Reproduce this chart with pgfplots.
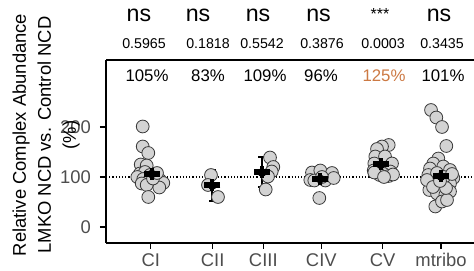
\documentclass[border=0pt]{standalone}
\usepackage{pgfplots}
\pgfplotsset{compat=1.18}
\usepackage{fontspec}
\setmainfont{Liberation Sans}
\definecolor{tickgray}{HTML}{4D4D4D}
\definecolor{ptfill}{HTML}{D3D3D3}
\definecolor{ptedge}{HTML}{3A3A3A}
\definecolor{orangetxt}{RGB}{204,121,67}
\newcommand{\nsfont}{\fontsize{11.6}{12}\selectfont}
\newcommand{\pfont}{\fontsize{7.1}{8}\selectfont}
\newcommand{\pcfont}{\fontsize{8.4}{9}\selectfont}
\begin{document}
\begin{tikzpicture}
\begin{axis}[
  scale only axis, width=184pt, height=91.5pt,
  xmin=106, xmax=474, ymin=-32, ymax=334,
  axis x line*=box, axis y line*=left,
  xtick={150.7,212.7,263.3,321.3,382.7,441},
  xticklabels={CI,CII,CIII,CIV,CV,mtribo},
  ytick={0,100,200},
  xtick pos=left, ytick pos=left,
  tick align=outside, major tick length=3pt,
  axis line style={line width=0.9pt},
  tick style={line width=0.6pt, color=black},
  /pgf/number format/assume math mode=true,
  ticklabel style={font=\fontsize{9.2}{10}\selectfont, text=tickgray},
  xticklabel style={yshift=1.2pt},
  yticklabel style={xshift=-1pt},
  clip=false,
]
\addplot[black, densely dotted, line width=0.6pt] coordinates {(106,100) (474,100)};
\addplot[only marks, mark=*, mark size=3.2pt, mark options={fill=ptfill, draw=ptedge, line width=0.4pt}] coordinates {
(142.7,201) (142.7,161) (148.3,148) (140.7,125) (146.7,123) (140,107) (145,110) (150,104) (155,102) (137.3,100) (143.3,96) (148.3,91) (160,94) (163.3,88) (141.7,87) (159.3,79) (146.7,84) (148.3,60) (153,97) (157,108)
(211,104) (208,84) (218,60)
(270,139) (273.3,120) (271.7,111) (268,101) (265.7,75)
(312,109) (320.3,113) (332,108) (310.3,94) (314.3,93) (325.3,93) (333.7,98) (319.3,58) (322,100)
(388.7,164) (382,161) (377,156) (375.3,141) (385,141) (374.3,127) (392,127) (373.7,113) (377,108) (390.3,111) (383.7,106) (388.7,102) (379.7,104) (374.3,109) (393,105) (384,100)
(431,234) (436.3,219) (442,200) (446.3,162) (438.3,137) (433.3,127) (430,117) (443.3,121) (450,114) (428.3,104) (437,108) (453.3,98) (432,87) (440.3,84) (450,87) (429.3,74) (437,67) (445.3,64) (450,71) (435.3,41) (442,51) (447,54) (427,94) (444,100) (452,106) (433,80) (446,78) (440,92)
};
\addplot[only marks, mark=none, black,
  error bars/.cd, y dir=both, y explicit,
  error bar style={line width=1pt, black},
  error mark options={rotate=90, mark size=1.8pt, line width=1pt, black}]
  coordinates {
  (151.7,106) +- (0,12)
  (212.3,83) +- (0,31)
  (262,109) +- (0,30)
  (320.3,96) +- (0,8)
  (381,125) +- (0,10)
  (441,101) +- (0,10)
};
\addplot[only marks, mark=-, mark size=4pt, mark options={line width=3pt, black}] coordinates {
  (151.7,106) (212.3,83) (262,109) (320.3,96) (381,125) (441,101)};
\addplot[only marks, mark=|, mark size=3pt, mark options={line width=2pt, black}] coordinates {
  (151.7,106) (212.3,83) (262,109) (320.3,96) (381,125) (441,101)};
\node[font=\nsfont] at (axis cs:139,424) {ns};
\node[font=\nsfont] at (axis cs:198,424) {ns};
\node[font=\nsfont] at (axis cs:258,424) {ns};
\node[font=\nsfont] at (axis cs:318.5,424) {ns};
\node[font=\nsfont] at (axis cs:439,424) {ns};
\node[font=\fontsize{8}{9}\selectfont] at (axis cs:380,426) {***};
\node[font=\pfont] at (axis cs:144,366) {0.5965};
\node[font=\pfont] at (axis cs:208,366) {0.1818};
\node[font=\pfont] at (axis cs:262,366) {0.5542};
\node[font=\pfont] at (axis cs:322,366) {0.3876};
\node[font=\pfont] at (axis cs:383,366) {0.0003};
\node[font=\pfont] at (axis cs:442,366) {0.3435};
\node[font=\pcfont] at (axis cs:147,302) {105\%};
\node[font=\pcfont] at (axis cs:208,302) {83\%};
\node[font=\pcfont] at (axis cs:265,302) {109\%};
\node[font=\pcfont] at (axis cs:321,302) {96\%};
\node[font=\pcfont, text=orangetxt] at (axis cs:384,302) {125\%};
\node[font=\pcfont] at (axis cs:443,302) {101\%};
\node[rotate=90, align=center, font=\fontsize{9.2}{12.5}\selectfont] at (axis cs:46,184)
  {Relative Complex Abundance\\LMKO NCD vs. Control NCD\\(\%)};
\coordinate (bbll) at (axis cs:0,-88);
\coordinate (bbur) at (axis cs:474,454);
\end{axis}
\pgfresetboundingbox
\path[use as bounding box] (bbll) rectangle (bbur);
\end{tikzpicture}
\end{document}
